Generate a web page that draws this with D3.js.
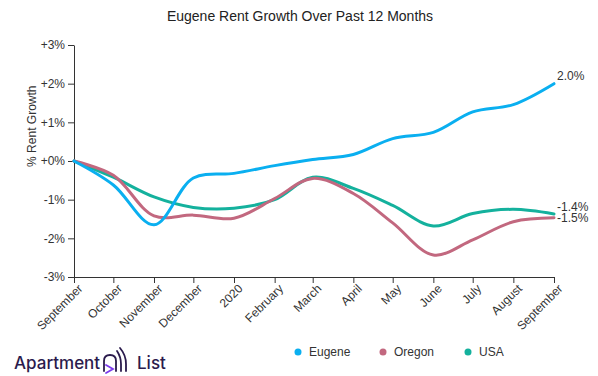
<!DOCTYPE html>
<html>
<head>
<meta charset="utf-8">
<script src="https://cdn.jsdelivr.net/npm/d3@7"></script>
<style>
  body { margin: 0; background: #fff; }
  svg { font-family: "Liberation Sans", Arial, sans-serif; }
  .axis text { fill: #333; font-size: 12px; }
  .axis path, .axis line { stroke: #333; }
</style>
</head>
<body>
<script>
// monthly rent growth (%) since Sept 2019
var months = ["2019-09-01","2019-10-01","2019-11-01","2019-12-01","2020-01-01","2020-02-01","2020-03-01",
              "2020-04-01","2020-05-01","2020-06-01","2020-07-01","2020-08-01","2020-09-01"];
var eugene = [0, -0.62, -1.65, -0.44, -0.32, -0.12, 0.04, 0.17, 0.58, 0.74, 1.27, 1.46, 2.0];
var oregon = [0, -0.37, -1.42, -1.4, -1.48, -0.97, -0.45, -0.84, -1.6, -2.43, -2.04, -1.57, -1.47];
var usa    = [0, -0.42, -0.93, -1.2, -1.22, -1.0, -0.42, -0.71, -1.15, -1.68, -1.36, -1.25, -1.37];
var seriesNames = ["Eugene", "Oregon", "USA"];
var endLabels = ["2.0%", "-1.5%", "-1.4%"];
var yTicks = [-3, -2, -1, 0, 1, 2, 3];

var colors = ["#0aaff0", "#c2687f", "#14b19d"];
var allSeries = [eugene, oregon, usa];
var parse = d3.timeParse("%Y-%m-%d");
var dates = months.map(parse);

var width = 598, height = 376;
var margin = {top: 45, right: 44, bottom: 99, left: 74};

var svg = d3.select("body").append("svg")
    .attr("width", width)
    .attr("height", height);

var x = d3.scaleTime()
    .domain(d3.extent(dates))
    .range([margin.left, width - margin.right]);

var y = d3.scaleLinear()
    .domain([-3, 3])
    .range([height - margin.bottom, margin.top]);

// title
svg.append("text")
    .attr("x", 300).attr("y", 21)
    .attr("text-anchor", "middle")
    .style("font-size", "14px")
    .style("fill", "#222")
    .text("Eugene Rent Growth Over Past 12 Months");

// y axis
svg.append("g")
    .attr("class", "axis")
    .attr("transform", "translate(" + margin.left + ",0)")
    .call(d3.axisLeft(y).tickValues(yTicks).tickSizeOuter(0)
      .tickFormat(function(d) { return (d >= 0 ? "+" : "") + d + "%"; }));

svg.append("text")
    .attr("transform", "translate(36," + y(0.9) + ") rotate(-90)")
    .attr("text-anchor", "middle")
    .style("font-size", "12px")
    .style("fill", "#333")
    .text("% Rent Growth");

// x axis
var xAxis = svg.append("g")
    .attr("class", "axis")
    .attr("transform", "translate(0," + (height - margin.bottom) + ")")
    .call(d3.axisBottom(x).ticks(d3.timeMonth.every(1)).tickSizeOuter(0));

xAxis.selectAll("text")
    .attr("text-anchor", "end")
    .attr("dx", "-0.2em")
    .attr("dy", "0.5em")
    .attr("transform", "rotate(-45)");

// lines
var line = d3.line()
    .x(function(d, i) { return x(dates[i]); })
    .y(function(d) { return y(d); })
    .curve(d3.curveCatmullRom.alpha(0.5));

// draw USA first, Eugene on top
[2, 1, 0].forEach(function(k) {
  svg.append("path")
      .datum(allSeries[k])
      .attr("fill", "none")
      .attr("stroke", colors[k])
      .attr("stroke-width", 3)
      .attr("stroke-linecap", "round")
      .attr("d", line);
});

// end labels
var last = dates.length - 1;
var labelOffsets = [-4, 4, -3];
allSeries.forEach(function(s, k) {
  svg.append("text")
      .attr("x", x(dates[last]) + 3)
      .attr("y", y(s[last]) + labelOffsets[k])
      .style("font-size", "12px")
      .style("fill", "#333")
      .text(endLabels[k]);
});

// legend
var legendX = [298, 383, 468];
seriesNames.forEach(function(n, k) {
  svg.append("circle")
      .attr("cx", legendX[k]).attr("cy", 352).attr("r", 3.5)
      .attr("fill", colors[k]);
  svg.append("text")
      .attr("x", legendX[k] + 11).attr("y", 356)
      .style("font-size", "12px")
      .style("fill", "#333")
      .text(n);
});

// Apartment List logo
var logo = svg.append("g").attr("fill", "#2b1b4d");
logo.append("text")
    .attr("x", 14).attr("y", 369)
    .style("font-size", "17px")
    .style("font-family", "Inter, 'Noto Sans', sans-serif")
    .style("font-weight", "500")
    .text("Apartment");
logo.append("text")
    .attr("x", 137).attr("y", 369)
    .style("font-size", "17px")
    .style("font-family", "Inter, 'Noto Sans', sans-serif")
    .style("font-weight", "500")
    .text("List");
var icon = svg.append("g").attr("fill", "none").attr("stroke-width", 1.8).attr("stroke-linecap", "round");
icon.append("path").attr("d", "M104,371 L104,361 Q104,355 110,355 Q116,355 116,361 L116,371").attr("stroke", "#2b1b4d");
icon.append("path").attr("d", "M117,351 Q121,357 121,364 L121,371").attr("stroke", "#2b1b4d");
icon.append("path").attr("d", "M120,348 Q126,355 126,364 L126,371").attr("stroke", "#2b1b4d");
icon.append("path").attr("d", "M106,365 L113,369 L106,373").attr("stroke", "#7c3aed");
</script>
</body>
</html>
